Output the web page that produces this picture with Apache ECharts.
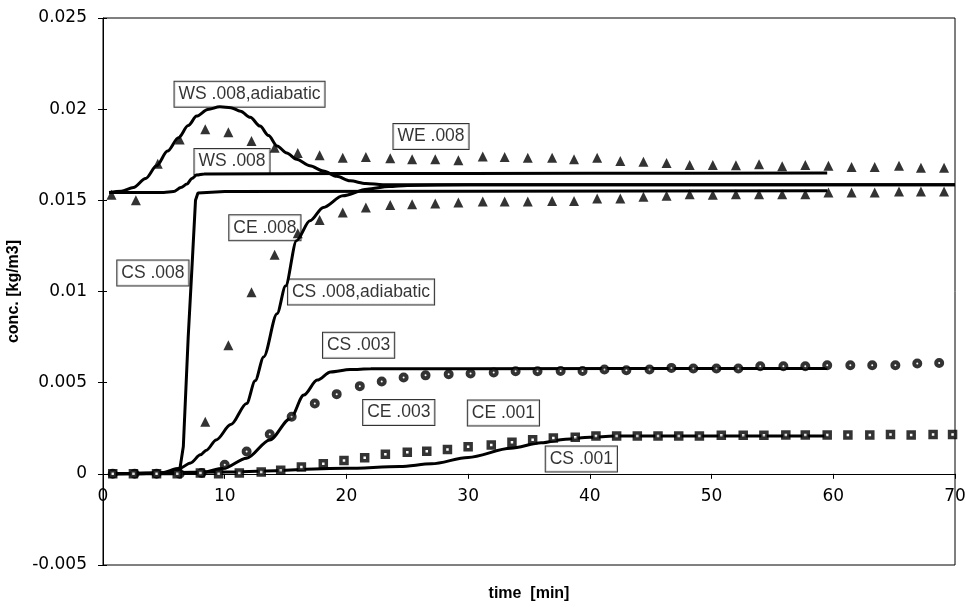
<!DOCTYPE html>
<html>
<head>
<meta charset="utf-8">
<script src="https://cdn.jsdelivr.net/npm/echarts@6/dist/echarts.min.js"></script>
<style>
  html, body { margin: 0; padding: 0; background: #fff; }
  #chart { width: 966px; height: 607px; }
</style>
</head>
<body>
<div id="chart"></div>
<script>
// Axis ranges and ticks
const xTicks = { min: 0, max: 70, interval: 10 };
const yTicks = { min: -0.005, max: 0.025, interval: 0.005 };

// Experimental points, 0.008 kg/m3 runs (triangles)
const t008 = [0.7, 2.7, 4.5, 6.3, 8.4, 10.3, 12.2, 14.1, 16.0, 17.8, 19.7, 21.6,
  23.6, 25.4, 27.3, 29.2, 31.2, 33.0, 34.9, 36.9, 38.7, 40.6, 42.5, 44.4, 46.3,
  48.2, 50.1, 52.0, 53.9, 55.8, 57.7, 59.6, 61.5, 63.4, 65.4, 67.2, 69.1];
const WE008 = [0.0153, 0.0150, 0.0170, 0.01834, 0.0189, 0.01874, 0.01825, 0.01789, 0.0176, 0.01747, 0.01734, 0.01738,
  0.01731, 0.01725, 0.01725, 0.0172, 0.01741, 0.01738, 0.01734, 0.01734, 0.01725, 0.01734, 0.01716, 0.01712, 0.01705,
  0.01694, 0.01694, 0.01692, 0.01698, 0.01687, 0.01694, 0.01689, 0.01683, 0.01683, 0.01689, 0.01679, 0.01679];
const CE008 = [null, null, null, null, 0.00286, 0.00705, 0.00996, 0.01202, 0.01319, 0.01392, 0.01433, 0.01461,
  0.01475, 0.01479, 0.01483, 0.01488, 0.01494, 0.01494, 0.01494, 0.01497, 0.01497, 0.0151, 0.0151, 0.01519, 0.01525,
  0.01534, 0.0153, 0.01534, 0.01534, 0.01534, 0.01534, 0.01543, 0.01543, 0.01543, 0.01548, 0.01548, 0.01548];

// Experimental points, 0.003 kg/m3 run (circles)
const t003 = [0.8, 2.6, 4.4, 6.3, 8.1, 10.0, 11.8, 13.7, 15.5, 17.4, 19.2, 21.1, 22.9, 24.7, 26.5, 28.4,
  30.2, 32.1, 33.9, 35.7, 37.6, 39.4, 41.2, 43.0, 44.9, 46.7, 48.5, 50.4, 52.2, 54.0, 55.9, 57.7,
  59.5, 61.4, 63.2, 65.1, 66.9, 68.7];
const CE003 = [0, 0, 0, 0, 0.00005, 0.0005, 0.00122, 0.00217, 0.00313, 0.00386, 0.00437, 0.00481, 0.00506, 0.00528, 0.0054, 0.00546,
  0.0055, 0.00556, 0.00563, 0.00563, 0.00564, 0.00564, 0.00572, 0.00568, 0.00572, 0.00581, 0.00578, 0.00578, 0.00578, 0.0059, 0.0059, 0.0059,
  0.00596, 0.00596, 0.00596, 0.00596, 0.00605, 0.00608];

// Experimental points, 0.001 kg/m3 run (squares)
const t001 = [0.8, 2.5, 4.4, 6.1, 8.0, 9.5, 11.2, 13.0, 14.6, 16.3, 18.1, 19.8, 21.5, 23.2,
  25.0, 26.6, 28.3, 30.0, 31.9, 33.6, 35.3, 37.0, 38.8, 40.5, 42.2, 43.9, 45.6, 47.3, 49.0,
  50.8, 52.6, 54.3, 56.1, 57.7, 59.5, 61.2, 63.0, 64.7, 66.4, 68.2, 69.8];
const CE001 = [0, 0, 0, 0, 0.00005, 0, 0.00005, 0.0001, 0.0002, 0.00037, 0.00055, 0.00073, 0.00088, 0.00108,
  0.00119, 0.00124, 0.00134, 0.00148, 0.00158, 0.00173, 0.00187, 0.00197, 0.00201, 0.00207, 0.00207, 0.00207, 0.00207, 0.00207, 0.00207,
  0.00211, 0.00211, 0.00211, 0.00213, 0.00213, 0.00213, 0.00213, 0.00213, 0.00216, 0.00213, 0.00216, 0.00216];

// Simulated curves
const tWSad = [0.5, 1.5, 2.5, 3.5, 4.4, 5.3, 6.2, 7.0, 7.7, 8.6, 9.6, 10.5, 11.3, 12.1, 12.9, 13.6, 14.3, 15.1, 15.9,
  17.0, 18.1, 19.2, 20.3, 21.6, 23.0, 25.0, 30, 50, 70];
const WSad = [0.01543, 0.0155, 0.0157, 0.0162, 0.01689, 0.0177, 0.01843, 0.0191, 0.01962, 0.01998, 0.02013, 0.02008, 0.01989, 0.01955, 0.01907, 0.01855, 0.01798, 0.0176, 0.01725,
  0.0169, 0.01661, 0.01632, 0.01607, 0.01592, 0.01586, 0.01585, 0.01585, 0.01585, 0.01585];

const tCSad = [0.5, 3, 4.7, 6.3, 7.2, 8.0, 8.5, 9.3, 10.5, 11.8, 12.5, 13.2, 14.3, 15.0, 15.9, 17.0, 18.1, 19.7, 21.7, 23.5, 25, 30, 50, 70];
const CSad = [0, 0, 0.00005, 0.0003, 0.0006, 0.00104, 0.0013, 0.00186, 0.0027, 0.00386, 0.0051, 0.00641, 0.00878, 0.0103, 0.01279, 0.01388, 0.01461, 0.01525, 0.01561, 0.01576, 0.01582, 0.01585, 0.01585, 0.01585];

const tWS008 = [0.5, 5.0, 5.8, 6.4, 6.9, 7.3, 7.7, 8.3, 20, 40, 59.5];
const WS008 = [0.01543, 0.01543, 0.01548, 0.0157, 0.01589, 0.0162, 0.01639, 0.01645, 0.01647, 0.01648, 0.0165];

const tCS008 = [0.5, 5.0, 6.3, 6.6, 7.0, 7.3, 7.6, 7.8, 10, 30, 59.5];
const CS008 = [0, 0.00005, 0.0002, 0.0015, 0.0075, 0.0112, 0.015, 0.0154, 0.01548, 0.0155, 0.01553];

const tCS003 = [0.5, 6, 8.0, 9.9, 11.8, 13.7, 15.4, 16.5, 17.6, 18.7, 20.3, 22, 30, 59.5];
const CS003 = [0, 0, 0.00007, 0.0003, 0.00086, 0.00186, 0.00304, 0.00432, 0.00514, 0.00559, 0.00572, 0.00576, 0.00577, 0.00578];

const tCS001 = [0.5, 10, 20, 24.4, 27, 30, 33.5, 36, 38, 40, 42, 59.5];
const CS001 = [0, 0.0001, 0.0003, 0.0004, 0.00055, 0.0009, 0.0014, 0.0017, 0.0019, 0.002, 0.00207, 0.00207];

// Curve labels: text and anchor point (time, conc.)
const noteText = ['WS .008,adiabatic', 'WS .008', 'WE .008', 'CE .008', 'CS .008',
  'CS .008,adiabatic', 'CS .003', 'CE .003', 'CE .001', 'CS .001'];
const noteT = [12.04, 10.6, 26.95, 13.3, 4.1, 21.2, 21.0, 24.3, 32.9, 39.3];
const noteC = [0.02082, 0.01713, 0.0185, 0.0135, 0.01101, 0.00997, 0.00705, 0.00336, 0.00333, 0.00082];

const pair = (t, v) => t.map((x, i) => [x, v[i]]);

function curve(name, t, v, smooth) {
  return {
    name, type: 'line', data: pair(t, v), showSymbol: false, symbol: 'none',
    smooth: smooth, smoothMonotone: 'x',
    lineStyle: { color: '#000', width: 3 }, z: 4
  };
}

function points(name, t, v, symbol, size, style) {
  return {
    name, type: 'scatter', data: pair(t, v).filter(p => p[1] !== null),
    symbol, symbolSize: size, itemStyle: style, z: 5
  };
}

const chart = echarts.init(document.getElementById('chart'), null, { renderer: 'canvas' });

const tickFont = { color: '#000', fontFamily: 'DejaVu Sans', fontSize: 17 };
const titleFont = { fontFamily: 'Liberation Sans', fontWeight: 'bold', fontSize: 16, color: '#000' };

chart.setOption({
  backgroundColor: '#fff',
  animation: false,
  grid: {
    left: 103, right: 11, top: 18, bottom: 42,
    containLabel: false, outerBoundsMode: 'none',
    show: true, borderColor: '#000', borderWidth: 1
  },
  xAxis: [{
    // axis line and ticks crossing at zero concentration
    type: 'value', min: xTicks.min, max: xTicks.max, interval: xTicks.interval,
    position: 'bottom',
    axisLine: { onZero: true, onZeroAxisIndex: 0, lineStyle: { color: '#000', width: 1 } },
    axisTick: { show: true, length: 5, lineStyle: { color: '#000' } },
    axisLabel: { show: false },
    splitLine: { show: false }
  }, {
    // tick labels just under the zero line, title at the bottom
    type: 'value', min: xTicks.min, max: xTicks.max, interval: xTicks.interval,
    position: 'bottom',
    name: 'time  [min]', nameLocation: 'middle', nameGap: 21,
    nameTextStyle: titleFont,
    axisLine: { show: false, onZero: false },
    axisTick: { show: false },
    axisLabel: Object.assign({ margin: -77 }, tickFont),
    splitLine: { show: false }
  }],
  yAxis: [{
    type: 'value', min: yTicks.min, max: yTicks.max, interval: yTicks.interval,
    name: 'conc. [kg/m3]', nameLocation: 'middle', nameGap: 77, nameRotate: 90,
    nameTextStyle: titleFont,
    axisLine: { show: true, lineStyle: { color: '#000', width: 1 } },
    axisTick: { show: true, length: 5, lineStyle: { color: '#000' } },
    axisLabel: Object.assign({ margin: 16, formatter: v => String(Math.round(v * 1000) / 1000) }, tickFont),
    splitLine: { show: false }
  }, {
    type: 'value', position: 'left', min: yTicks.min, max: yTicks.max, interval: yTicks.interval,
    axisLine: { show: false },
    axisTick: { show: true, inside: true, length: 4, lineStyle: { color: '#000' } },
    axisLabel: { show: false },
    splitLine: { show: false }
  }],
  series: [
    {
      name: 'notes', type: 'scatter', symbolSize: 0.1, itemStyle: { color: 'rgba(0,0,0,0)' },
      data: noteText.map((s, i) => ({ name: s, value: [noteT[i], noteC[i]] })),
      label: {
        show: true, position: 'inside', formatter: p => p.name,
        fontFamily: 'Liberation Sans', fontSize: 17.5, color: '#000', lineHeight: 18,
        backgroundColor: '#fff', borderColor: '#000', borderWidth: 1, padding: [4, 4, 3, 4]
      },
      // zero-concentration reference line
      markLine: {
        silent: true, symbol: 'none', label: { show: false },
        lineStyle: { color: '#000', width: 1, type: 'solid' },
        data: [{ yAxis: 0 }]
      },
      z: 3, silent: true
    },
    curve('WS .008,adiabatic', tWSad, WSad, 0.3),
    curve('CS .008,adiabatic', tCSad, CSad, 0.3),
    curve('WS .008', tWS008, WS008, 0.3),
    curve('CS .008', tCS008, CS008, false),
    curve('CS .003', tCS003, CS003, 0.3),
    curve('CS .001', tCS001, CS001, 0.3),
    points('WE .008', t008, WE008, 'triangle', 10, { color: '#000' }),
    points('CE .008', t008, CE008, 'triangle', 10, { color: '#000' }),
    points('CE .003', t003, CE003, 'circle', 6, { color: '#fff', borderColor: '#000', borderWidth: 4 }),
    points('CE .001', t001, CE001, 'rect', 6, { color: '#fff', borderColor: '#000', borderWidth: 3.5 })
  ]
});
</script>
</body>
</html>
